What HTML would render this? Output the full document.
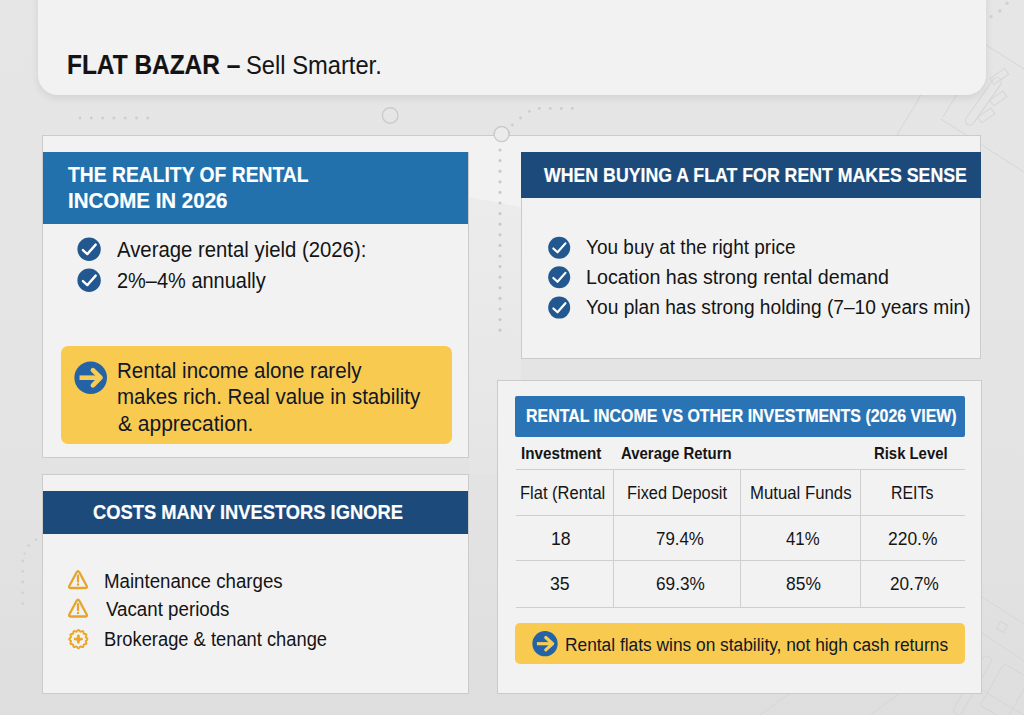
<!DOCTYPE html>
<html><head><meta charset="utf-8"><style>
html,body{margin:0;padding:0}
body{width:1024px;height:715px;position:relative;overflow:hidden;background:#e3e3e3;font-family:"Liberation Sans",sans-serif}
.t{position:absolute;white-space:nowrap;transform-origin:0 0;-webkit-text-stroke:0.2px currentColor}
.a{position:absolute;overflow:visible}
.r{position:absolute;box-sizing:border-box}
</style></head><body>
<div class="r" style="left:0;top:0;width:1024px;height:715px;background:linear-gradient(180deg,#e6e6e6 0%,#e3e3e3 70%,#dedede 100%)"></div>

<svg class="a" style="left:0;top:0" width="1024" height="715" viewBox="0 0 1024 715">
 <g fill="#cdcdcd">
  <circle cx="80" cy="118" r="1.4"/><circle cx="91.3" cy="118" r="1.4"/><circle cx="102.6" cy="118" r="1.4"/><circle cx="113.9" cy="118" r="1.4"/><circle cx="125.2" cy="118" r="1.4"/><circle cx="136.5" cy="118" r="1.4"/><circle cx="147.8" cy="118" r="1.4"/>
  <circle cx="512.4" cy="125" r="1.4"/><circle cx="520.6" cy="118" r="1.4"/><circle cx="529.4" cy="111.4" r="1.4"/><circle cx="539.3" cy="108.5" r="1.4"/><circle cx="550.3" cy="108.5" r="1.4"/><circle cx="561.3" cy="108.5" r="1.4"/><circle cx="572.3" cy="108.5" r="1.4"/>
  </g><g fill="#d2d2d2"><circle cx="36" cy="539.6" r="1.4"/><circle cx="28.7" cy="545.6" r="1.4"/><circle cx="24.5" cy="553.6" r="1.2"/><circle cx="22.7" cy="561" r="1.4"/><circle cx="22.7" cy="571.3" r="1.4"/><circle cx="22.7" cy="582" r="1.4"/><circle cx="22.7" cy="592.8" r="1.4"/><circle cx="22.7" cy="603.5" r="1.4"/>
  <circle cx="1007" cy="3.2" r="1.8"/><circle cx="999.8" cy="10.9" r="1.8"/><circle cx="991" cy="16.6" r="1.6"/>
 </g>
 <circle cx="390.2" cy="115.5" r="7.8" fill="none" stroke="#cbcbcb" stroke-width="1.4"/>
</svg>
<svg class="a" style="left:0;top:0" width="1024" height="715" viewBox="0 0 1024 715">
<g stroke="#d6d6d6" stroke-width="1" fill="none">
 <path d="M986 45 L1024 69"/><path d="M941 119 L1024 172"/><path d="M943 117 L986 46"/>
 <path d="M921 95 L888 150"/>
 <rect x="955" y="97" width="56" height="9" rx="4.5" transform="rotate(-55 983 101)"/>
 <rect x="990" y="95" width="16" height="7" transform="rotate(-35 998 98)"/>
 <rect x="978" y="112" width="16" height="7" transform="rotate(-35 986 115)"/>
 <rect x="990" y="73" width="18" height="7" transform="rotate(-35 999 76)"/>
 <path d="M982 597 L1024 624"/><path d="M982 633 L1024 661"/>
 <rect x="998" y="623" width="8" height="8" transform="rotate(30 1002 627)"/>
 <rect x="968" y="652" width="9" height="66" rx="4.5" transform="rotate(30 972 685)"/>
 <rect x="990" y="668" width="30" height="48" rx="3" transform="rotate(30 1005 692)"/>
 <path d="M982 690 L1024 715"/><path d="M870 715 L900 693 L982 693"/><path d="M760 715 L790 693"/>
</g></svg>
<!-- title card -->
<div class="r" style="left:38px;top:-30px;width:948px;height:125px;border-radius:20px;background:#f2f2f2;box-shadow:0 3px 9px rgba(0,0,0,0.09)"></div>
<!-- top light panel between boxes -->
<div class="r" style="left:42px;top:135px;width:939px;height:65px;background:#f1f1f1;border-top:1px solid #cbcbcb"></div>

<svg class="a" style="left:0;top:0" width="1024" height="715" viewBox="0 0 1024 715">
 <g fill="#cacaca"><circle cx="500" cy="150.0" r="1.6"/><circle cx="500" cy="160.6" r="1.6"/><circle cx="500" cy="171.2" r="1.6"/><circle cx="500" cy="181.8" r="1.6"/><circle cx="500" cy="192.4" r="1.6"/><circle cx="500" cy="203.0" r="1.6"/><circle cx="500" cy="213.6" r="1.6"/><circle cx="500" cy="224.2" r="1.6"/><circle cx="500" cy="234.8" r="1.6"/><circle cx="500" cy="245.4" r="1.6"/><circle cx="500" cy="256.0" r="1.6"/><circle cx="500" cy="266.6" r="1.6"/><circle cx="500" cy="277.2" r="1.6"/><circle cx="500" cy="287.8" r="1.6"/><circle cx="500" cy="298.4" r="1.6"/><circle cx="500" cy="309.0" r="1.6"/><circle cx="500" cy="319.6" r="1.6"/><circle cx="500" cy="330.2" r="1.6"/></g>
 <circle cx="501.6" cy="134.2" r="7.5" fill="#ebebeb" stroke="#c9c9c9" stroke-width="1.3"/>
</svg>
<!-- box1 -->
<div class="r" style="left:42px;top:135px;width:427px;height:323px;background:#f2f2f2;border:1px solid #cbcbcb"></div>
<div class="r" style="left:43px;top:152px;width:425px;height:72px;background:#2270ac"></div>
<!-- box2 -->
<div class="r" style="left:521px;top:135px;width:460px;height:224px;background:#f2f2f2;border:1px solid #cbcbcb;border-left-color:#cbcbcb"></div>
<div class="r" style="left:521px;top:152px;width:460px;height:46px;background:#1c4a7b"></div>
<!-- gap cover -->
<div class="r" style="left:43px;top:136px;width:937px;height:16px;background:#f2f2f2"></div>
<svg class="a" style="left:0;top:0" width="1024" height="715" viewBox="0 0 1024 715"><defs><linearGradient id="gg" x1="0" y1="0" x2="0" y2="1"><stop offset="0" stop-color="#ececec"/><stop offset="1" stop-color="#e5e5e5"/></linearGradient></defs><rect x="469" y="197" width="52" height="277" fill="url(#gg)"/><polygon points="469,152 521,152 521,207 469,197" fill="#f2f2f2"/>
<g fill="#cacaca"><circle cx="500" cy="150.0" r="1.6"/><circle cx="500" cy="160.6" r="1.6"/><circle cx="500" cy="171.2" r="1.6"/><circle cx="500" cy="181.8" r="1.6"/><circle cx="500" cy="192.4" r="1.6"/><circle cx="500" cy="203.0" r="1.6"/><circle cx="500" cy="213.6" r="1.6"/><circle cx="500" cy="224.2" r="1.6"/><circle cx="500" cy="234.8" r="1.6"/><circle cx="500" cy="245.4" r="1.6"/><circle cx="500" cy="256.0" r="1.6"/><circle cx="500" cy="266.6" r="1.6"/><circle cx="500" cy="277.2" r="1.6"/><circle cx="500" cy="287.8" r="1.6"/><circle cx="500" cy="298.4" r="1.6"/><circle cx="500" cy="309.0" r="1.6"/><circle cx="500" cy="319.6" r="1.6"/><circle cx="500" cy="330.2" r="1.6"/></g>
<circle cx="501.6" cy="134.2" r="7.5" fill="#ebebeb" stroke="#c9c9c9" stroke-width="1.3"/></svg>
<!-- box3 -->
<div class="r" style="left:42px;top:474px;width:427px;height:220px;background:#f2f2f2;border:1px solid #cbcbcb"></div>
<div class="r" style="left:43px;top:491px;width:425px;height:43px;background:#1c4a7b"></div>
<!-- box4 -->
<div class="r" style="left:497px;top:380px;width:485px;height:314px;background:#f2f2f2;border:1px solid #cbcbcb"></div>
<div class="r" style="left:515px;top:396px;width:450px;height:41px;background:#2a74b5;border-radius:2px"></div>
<!-- table lines -->
<div class="r" style="left:516px;top:469px;width:449px;height:1px;background:#cfcfcf"></div>
<div class="r" style="left:516px;top:515px;width:449px;height:1px;background:#cfcfcf"></div>
<div class="r" style="left:516px;top:560px;width:449px;height:1px;background:#cfcfcf"></div>
<div class="r" style="left:516px;top:607px;width:449px;height:1px;background:#cfcfcf"></div>
<div class="r" style="left:613px;top:470px;width:1px;height:137px;background:#cfcfcf"></div>
<div class="r" style="left:740px;top:470px;width:1px;height:137px;background:#cfcfcf"></div>
<div class="r" style="left:860px;top:470px;width:1px;height:137px;background:#cfcfcf"></div>
<!-- callouts -->
<div class="r" style="left:61px;top:346px;width:391px;height:98px;background:#f8ca50;border-radius:7px"></div>
<div class="r" style="left:515px;top:623px;width:450px;height:41px;background:#f8ca50;border-radius:5px"></div>
<svg class="a" style="left:0;top:0" width="1024" height="715" viewBox="0 0 1024 715">
<circle cx="89.1" cy="249.2" r="11.7" fill="#22588f"/><path d="M82.89999999999999 250.1 L87.3 254.1 L95.69999999999999 244.6" fill="none" stroke="#fff" stroke-width="2.35" stroke-linecap="round" stroke-linejoin="round"/>
<circle cx="89.1" cy="280.2" r="11.7" fill="#22588f"/><path d="M82.89999999999999 281.09999999999997 L87.3 285.09999999999997 L95.69999999999999 275.59999999999997" fill="none" stroke="#fff" stroke-width="2.35" stroke-linecap="round" stroke-linejoin="round"/>
<circle cx="559.2" cy="247.7" r="11" fill="#22588f"/><path d="M553.3709401709402 248.54615384615383 L557.5076923076923 252.3068376068376 L565.4051282051282 243.37521367521367" fill="none" stroke="#fff" stroke-width="2.2094017094017095" stroke-linecap="round" stroke-linejoin="round"/>
<circle cx="559.2" cy="277.2" r="11" fill="#22588f"/><path d="M553.3709401709402 278.04615384615386 L557.5076923076923 281.8068376068376 L565.4051282051282 272.8752136752137" fill="none" stroke="#fff" stroke-width="2.2094017094017095" stroke-linecap="round" stroke-linejoin="round"/>
<circle cx="559.2" cy="307.6" r="11" fill="#22588f"/><path d="M553.3709401709402 308.4461538461539 L557.5076923076923 312.2068376068376 L565.4051282051282 303.2752136752137" fill="none" stroke="#fff" stroke-width="2.2094017094017095" stroke-linecap="round" stroke-linejoin="round"/>
<circle cx="90.7" cy="377.7" r="16.3" fill="#2463a5"/><path d="M79.5 377.7 L99.0 377.7" fill="none" stroke="#f7cd55" stroke-width="4.6" stroke-linecap="butt"/><path d="M92.9 370.09999999999997 L100.5 377.7 L92.9 385.3" fill="none" stroke="#f7cd55" stroke-width="4.6" stroke-linecap="round" stroke-linejoin="round"/>
<circle cx="545.0" cy="643.7" r="12.65" fill="#2463a5"/><path d="M536.9 643.7 L551.1 643.7" fill="none" stroke="#f7cd55" stroke-width="3.2" stroke-linecap="butt"/><path d="M545.8 637.5 L552.6 643.7 L545.8 649.9000000000001" fill="none" stroke="#f7cd55" stroke-width="3.2" stroke-linecap="round" stroke-linejoin="round"/>
<g transform="translate(78 569) scale(0.92 1) translate(-11 0)"><path d="M9.5 3.3 Q11 0.9 12.5 3.3 L20.4 16.8 Q21.6 19 19.1 19 L2.9 19 Q0.4 19 1.6 16.8 Z" fill="none" stroke="#e6a42a" stroke-width="2.4" stroke-linejoin="round"/><path d="M11 6.8 L11 12.4" stroke="#e6a42a" stroke-width="2.4" stroke-linecap="round"/><circle cx="11" cy="15.5" r="1.3" fill="#e6a42a"/></g>
<g transform="translate(78 597.5) scale(0.92 1) translate(-11 0)"><path d="M9.5 3.3 Q11 0.9 12.5 3.3 L20.4 16.8 Q21.6 19 19.1 19 L2.9 19 Q0.4 19 1.6 16.8 Z" fill="none" stroke="#e6a42a" stroke-width="2.4" stroke-linejoin="round"/><path d="M11 6.8 L11 12.4" stroke="#e6a42a" stroke-width="2.4" stroke-linecap="round"/><circle cx="11" cy="15.5" r="1.3" fill="#e6a42a"/></g>
<polyline points="87.55,639.10 87.39,639.57 86.98,640.00 86.47,640.38 86.02,640.72 85.79,641.08 85.81,641.51 86.03,642.03 86.29,642.61 86.43,643.19 86.32,643.68 85.95,644.01 85.38,644.17 84.75,644.24 84.19,644.31 83.81,644.51 83.61,644.89 83.54,645.45 83.47,646.08 83.31,646.65 82.98,647.02 82.49,647.13 81.91,646.99 81.33,646.73 80.81,646.51 80.38,646.49 80.02,646.72 79.68,647.17 79.30,647.68 78.87,648.09 78.40,648.25 77.93,648.09 77.50,647.68 77.12,647.17 76.78,646.72 76.42,646.49 75.99,646.51 75.47,646.73 74.89,646.99 74.31,647.13 73.83,647.02 73.49,646.65 73.33,646.08 73.26,645.45 73.19,644.89 72.99,644.51 72.61,644.31 72.05,644.24 71.42,644.17 70.85,644.01 70.48,643.68 70.37,643.19 70.51,642.61 70.77,642.03 70.99,641.51 71.01,641.08 70.78,640.72 70.33,640.38 69.82,640.00 69.41,639.57 69.25,639.10 69.41,638.63 69.82,638.20 70.33,637.82 70.78,637.48 71.01,637.12 70.99,636.69 70.77,636.17 70.51,635.59 70.37,635.01 70.48,634.52 70.85,634.19 71.42,634.03 72.05,633.96 72.61,633.89 72.99,633.69 73.19,633.31 73.26,632.75 73.33,632.12 73.49,631.55 73.83,631.18 74.31,631.07 74.89,631.21 75.47,631.47 75.99,631.69 76.42,631.71 76.78,631.48 77.12,631.03 77.50,630.52 77.93,630.11 78.40,629.95 78.87,630.11 79.30,630.52 79.68,631.03 80.02,631.48 80.38,631.71 80.81,631.69 81.33,631.47 81.91,631.21 82.49,631.07 82.98,631.18 83.31,631.55 83.47,632.12 83.54,632.75 83.61,633.31 83.81,633.69 84.19,633.89 84.75,633.96 85.38,634.03 85.95,634.19 86.32,634.52 86.43,635.01 86.29,635.59 86.03,636.17 85.81,636.69 85.79,637.12 86.02,637.48 86.47,637.82 86.98,638.20 87.39,638.63 87.55,639.10" fill="none" stroke="#eba624" stroke-width="1.9" stroke-linejoin="round"/><path d="M75.2 639.1 L81.60000000000001 639.1 M78.4 635.9 L78.4 642.3000000000001" stroke="#eba624" stroke-width="2.8" stroke-linecap="round"/><path d="M75.9 639.1 L78.4 636.6 L80.9 639.1 L78.4 641.6 Z" fill="#eba624"/>
</svg>
<div class="t" style="left:67.12px;top:50.9px;font-size:27.47px;line-height:27.47px;font-weight:700;color:#131313;transform:scaleX(0.8896);">FLAT BAZAR –</div>
<div class="t" style="left:245.95px;top:52.8px;font-size:25.58px;line-height:25.58px;font-weight:400;color:#151515;transform:scaleX(0.9275);-webkit-text-stroke:0;">Sell Smarter.</div>
<div class="t" style="left:68.3px;top:163.5px;font-size:22.24px;line-height:22.24px;font-weight:700;color:#ffffff;transform:scaleX(0.8681);">THE REALITY OF RENTAL</div>
<div class="t" style="left:68.47px;top:190.0px;font-size:21.95px;line-height:21.95px;font-weight:700;color:#ffffff;transform:scaleX(0.9343);">INCOME IN 2026</div>
<div class="t" style="left:117.0px;top:239.5px;font-size:21.51px;line-height:21.51px;font-weight:400;color:#141414;transform:scaleX(0.9454);-webkit-text-stroke:0;">Average rental yield (2026):</div>
<div class="t" style="left:116.57px;top:270.8px;font-size:21.51px;line-height:21.51px;font-weight:400;color:#141414;transform:scaleX(0.9289);-webkit-text-stroke:0;">2%–4% annually</div>
<div class="t" style="left:116.65px;top:359.8px;font-size:22.24px;line-height:22.24px;font-weight:400;color:#121726;transform:scaleX(0.9244);-webkit-text-stroke:0;">Rental income alone rarely</div>
<div class="t" style="left:116.65px;top:385.9px;font-size:22.24px;line-height:22.24px;font-weight:400;color:#121726;transform:scaleX(0.9227);-webkit-text-stroke:0;">makes rich. Real value in stability</div>
<div class="t" style="left:117.56px;top:412.6px;font-size:22.24px;line-height:22.24px;font-weight:400;color:#121726;transform:scaleX(0.9443);-webkit-text-stroke:0;">& apprecation.</div>
<div class="t" style="left:92.82px;top:502.3px;font-size:20.93px;line-height:20.93px;font-weight:700;color:#ffffff;transform:scaleX(0.8759);">COSTS MANY INVESTORS IGNORE</div>
<div class="t" style="left:104.01px;top:571.7px;font-size:19.77px;line-height:19.77px;font-weight:400;color:#141414;transform:scaleX(0.9452);-webkit-text-stroke:0;">Maintenance charges</div>
<div class="t" style="left:105.9px;top:600.4px;font-size:19.77px;line-height:19.77px;font-weight:400;color:#141414;transform:scaleX(0.9469);-webkit-text-stroke:0;">Vacant periods</div>
<div class="t" style="left:104.05px;top:629.8px;font-size:19.77px;line-height:19.77px;font-weight:400;color:#141414;transform:scaleX(0.9269);-webkit-text-stroke:0;">Brokerage & tenant change</div>
<div class="t" style="left:543.6px;top:164.8px;font-size:20.64px;line-height:20.64px;font-weight:700;color:#ffffff;transform:scaleX(0.8595);">WHEN BUYING A FLAT FOR RENT MAKES SENSE</div>
<div class="t" style="left:585.87px;top:237.2px;font-size:20.35px;line-height:20.35px;font-weight:400;color:#141414;transform:scaleX(0.9338);-webkit-text-stroke:0;">You buy at the right price</div>
<div class="t" style="left:585.97px;top:267.2px;font-size:20.35px;line-height:20.35px;font-weight:400;color:#141414;transform:scaleX(0.9668);-webkit-text-stroke:0;">Location has strong rental demand</div>
<div class="t" style="left:585.86px;top:296.8px;font-size:20.35px;line-height:20.35px;font-weight:400;color:#141414;transform:scaleX(0.9411);-webkit-text-stroke:0;">You plan has strong holding (7–10 years min)</div>
<div class="t" style="left:526.1px;top:408.0px;font-size:17.73px;line-height:17.73px;font-weight:700;color:#ffffff;transform:scaleX(0.8994);">RENTAL INCOME VS OTHER INVESTMENTS (2026 VIEW)</div>
<div class="t" style="left:520.79px;top:445.9px;font-size:16.72px;line-height:16.72px;font-weight:700;color:#151515;transform:scaleX(0.9115);-webkit-text-stroke:0;">Investment</div>
<div class="t" style="left:621.21px;top:445.9px;font-size:16.72px;line-height:16.72px;font-weight:700;color:#151515;transform:scaleX(0.8934);-webkit-text-stroke:0;">Average Return</div>
<div class="t" style="left:874.31px;top:445.9px;font-size:16.72px;line-height:16.72px;font-weight:700;color:#151515;transform:scaleX(0.8901);-webkit-text-stroke:0;">Risk Level</div>
<div class="t" style="left:519.55px;top:484.8px;font-size:17.44px;line-height:17.44px;font-weight:400;color:#151515;transform:scaleX(0.9455);-webkit-text-stroke:0;">Flat (Rental</div>
<div class="t" style="left:627.36px;top:484.8px;font-size:17.44px;line-height:17.44px;font-weight:400;color:#151515;transform:scaleX(0.9381);-webkit-text-stroke:0;">Fixed Deposit</div>
<div class="t" style="left:749.84px;top:484.7px;font-size:17.44px;line-height:17.44px;font-weight:400;color:#151515;transform:scaleX(0.9615);-webkit-text-stroke:0;">Mutual Funds</div>
<div class="t" style="left:890.69px;top:484.7px;font-size:17.44px;line-height:17.44px;font-weight:400;color:#151515;transform:scaleX(0.9111);-webkit-text-stroke:0;">REITs</div>
<div class="t" style="left:550.89px;top:530.6px;font-size:17.59px;line-height:17.59px;font-weight:400;color:#151515;transform:scaleX(1.0056);-webkit-text-stroke:0;">18</div>
<div class="t" style="left:656.24px;top:530.6px;font-size:17.59px;line-height:17.59px;font-weight:400;color:#151515;transform:scaleX(0.9604);-webkit-text-stroke:0;">79.4%</div>
<div class="t" style="left:785.7px;top:530.5px;font-size:17.59px;line-height:17.59px;font-weight:400;color:#151515;transform:scaleX(0.9543);-webkit-text-stroke:0;">41%</div>
<div class="t" style="left:887.71px;top:530.5px;font-size:17.59px;line-height:17.59px;font-weight:400;color:#151515;transform:scaleX(0.9917);-webkit-text-stroke:0;">220.%</div>
<div class="t" style="left:550.39px;top:575.9px;font-size:17.59px;line-height:17.59px;font-weight:400;color:#151515;transform:scaleX(1.0056);-webkit-text-stroke:0;">35</div>
<div class="t" style="left:656.02px;top:575.9px;font-size:17.59px;line-height:17.59px;font-weight:400;color:#151515;transform:scaleX(0.9792);-webkit-text-stroke:0;">69.3%</div>
<div class="t" style="left:785.61px;top:575.7px;font-size:17.59px;line-height:17.59px;font-weight:400;color:#151515;transform:scaleX(0.9912);-webkit-text-stroke:0;">85%</div>
<div class="t" style="left:889.62px;top:575.7px;font-size:17.59px;line-height:17.59px;font-weight:400;color:#151515;transform:scaleX(0.9771);-webkit-text-stroke:0;">20.7%</div>
<div class="t" style="left:564.92px;top:636.0px;font-size:18.46px;line-height:18.46px;font-weight:400;color:#121726;transform:scaleX(0.94);-webkit-text-stroke:0;">Rental flats wins on stability, not high cash returns</div>
</body></html>
